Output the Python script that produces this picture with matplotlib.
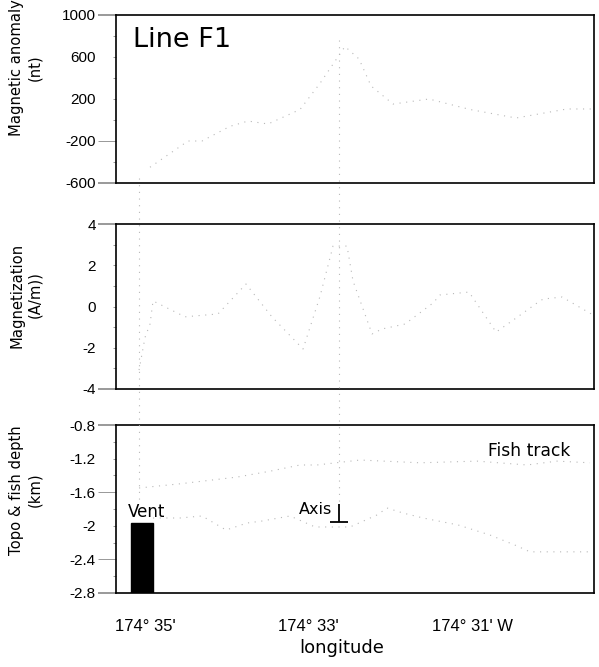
import matplotlib
matplotlib.use("Agg")
import numpy as np
import matplotlib.pyplot as plt
from matplotlib.lines import Line2D
from matplotlib.transforms import blended_transform_factory

# ---------------- data (longitude in minutes west of 174 deg) ----------------
mag_lon = [34.939, 34.474, 34.303, 33.960, 33.740, 33.495, 33.104, 32.859,
           32.554, 32.382, 32.235, 31.966, 31.526, 31.024, 30.462, 29.838, 29.508]
mag_anom = [-450, -200, -200, -60, -10, -38, 100, 350,
            700, 581, 324, 152, 200, 100, 19, 105, 105]

magz_lon = [35.073, 35.000, 34.939, 34.902, 34.511, 34.107, 33.765, 33.446,
            33.067, 32.859, 32.700, 32.529, 32.456, 32.223, 32.101, 31.820,
            31.477, 31.391, 31.037, 30.706, 30.511, 30.205, 30.131, 29.899, 29.520]
magz_val = [-3.08, -1.5, -0.85, 0.27, -0.5, -0.36, 1.09, -0.51,
            -2.06, 0.5, 2.93, 2.93, 1.24, -1.33, -1.09, -0.85,
            0.17, 0.56, 0.70, -1.24, -0.70, 0.17, 0.36, 0.46, -0.41]

topo_lon = [34.902, 34.572, 34.303, 34.009, 33.752, 33.569, 33.226, 32.920,
            32.492, 32.162, 32.040, 31.844, 31.599, 31.171, 30.780, 30.474,
            30.291, 29.924, 29.520]
topo_depth = [-1.907, -1.907, -1.883, -2.05, -1.967, -1.943, -1.883, -2.014,
              -2.014, -1.871, -1.788, -1.848, -1.907, -1.99, -2.11, -2.23,
              -2.31, -2.31, -2.31]

fish_lon = [35.073, 34.572, 33.875, 33.471, 33.104, 32.896, 32.370, 31.636,
            30.939, 30.327, 29.960, 29.557]
fish_depth = [-1.55, -1.5, -1.42, -1.35, -1.276, -1.276, -1.217, -1.25,
              -1.23, -1.276, -1.23, -1.25]

vent_lon = 35.037
vent_width = 0.27
vent_top = -1.97
axis_lon = 32.627
axis_depth = -1.955

xtick_pos = [35, 33, 31]
xtick_labels = ["174° 35'", "174° 33'", "174° 31' W"]

# ---------------- figure ----------------
W, H = 599, 667
fig = plt.figure(figsize=(W / 100, H / 100), dpi=100)

def frac(l, t, r, b):
    return [l / W, 1 - b / H, (r - l) / W, (b - t) / H]

ax1 = fig.add_axes(frac(116, 15, 594, 183))
ax2 = fig.add_axes(frac(116, 224, 594, 389))
ax3 = fig.add_axes(frac(116, 425, 594, 593))

XL = (35.355, 29.508)
TICKFONT = dict(family="Liberation Sans", size=11)
LABFONT = "DejaVu Sans"
DATA_KW = dict(color="#b8b8b8", lw=0.8, linestyle=(0, (1, 5)))

def style(ax, ylim, majors, minor_step, extreme_black, faint):
    ax.set_xlim(*XL)
    ax.set_ylim(*ylim)
    for s in ax.spines.values():
        s.set_linewidth(1.2)
    ax.set_yticks(majors)
    ax.set_yticklabels([("%g" % v) for v in majors], **TICKFONT)
    ax.set_yticks(np.arange(ylim[0], ylim[1] + 1e-9, minor_step), minor=True)
    ax.tick_params(axis="y", which="major", direction="out", length=2,
                   width=0.6, color="#888888", pad=12.5)
    ax.tick_params(axis="y", which="minor", direction="out", length=2,
                   width=0.6, color="#888888")
    ticks = ax.yaxis.get_major_ticks()
    for i, t in enumerate(ticks):
        if i in extreme_black:
            t.tick1line.set_markersize(13)
            t.tick1line.set_color("black")
            t.tick1line.set_markeredgewidth(1.2)
        elif i in faint:
            t.tick1line.set_markersize(13)
            t.tick1line.set_color("#cccccc")
            t.tick1line.set_markeredgewidth(0.6)
    ax.tick_params(axis="x", length=0)

style(ax1, (-600, 1000), [1000, 600, 200, -200, -600], 200, [0, 4], [3])
style(ax2, (-4, 4), [4, 2, 0, -2, -4], 1, [0, 4], [])
style(ax3, (-2.8, -0.8), [-0.8, -1.2, -1.6, -2, -2.4, -2.8], 0.2, [0, 5], [2, 4])

ax1.set_xticks([])
ax2.set_xticks([])
ax3.set_xticks(xtick_pos)
ax3.set_xticklabels(xtick_labels, family="Liberation Sans", size=12)
ax3.tick_params(axis="x", pad=19)

# data
ax1.plot(mag_lon, mag_anom, **DATA_KW)
ax2.plot(magz_lon, magz_val, **DATA_KW)
ax3.plot(topo_lon, topo_depth, **DATA_KW)
ax3.plot(fish_lon, fish_depth, **DATA_KW)
ax3.bar([vent_lon], [vent_top - (-2.8)], bottom=-2.8, width=vent_width,
        color="black", edgecolor="black")

# axis marker
ax3.vlines(axis_lon, axis_depth, axis_depth + 0.21, color="black", lw=1.3)
ax3.hlines(axis_depth, axis_lon + 0.11, axis_lon - 0.11, color="black", lw=1.3)

# annotations
ax1.text(35.147, 762, "Line F1", family=LABFONT, fontsize=19.5, va="center", ha="left")
ax3.text(35.208, -1.83, "Vent", family=LABFONT, fontsize=12, va="center", ha="left")
ax3.text(32.713, -1.80, "Axis", family=LABFONT, fontsize=11.5, va="center", ha="right")
ax3.text(30.804, -1.11, "Fish track", family=LABFONT, fontsize=12.3, va="center", ha="left")

# vertical guide lines through the panels
tr = blended_transform_factory(ax3.transData, fig.transFigure)
fig.add_artist(Line2D([vent_lon + 0.036, vent_lon + 0.036], [1 - 178 / H, 1 - 500 / H],
                      transform=tr, color="#b8b8b8", lw=0.8, linestyle=(0, (1, 5))))
fig.add_artist(Line2D([axis_lon, axis_lon], [1 - 40 / H, 1 - 505 / H],
                      transform=tr, color="#b8b8b8", lw=0.8, linestyle=(0, (1, 5))))

# y labels
YL = dict(rotation=90, ha="center", va="center", multialignment="center",
          family=LABFONT, fontsize=10.6, linespacing=1.25)
fig.text(26 / W, 1 - 68 / H, "Magnetic anomaly\n(nt)", **YL)
fig.text(26 / W, 1 - 295 / H, "Magnetization\n(A/m))", **YL)
fig.text(26 / W, 1 - 490 / H, "Topo & fish depth\n(km)", **YL)

fig.text(342 / W, 1 - 648 / H, "longitude", ha="center", va="center",
         family=LABFONT, fontsize=13)

fig.savefig("out.png", dpi=100)
